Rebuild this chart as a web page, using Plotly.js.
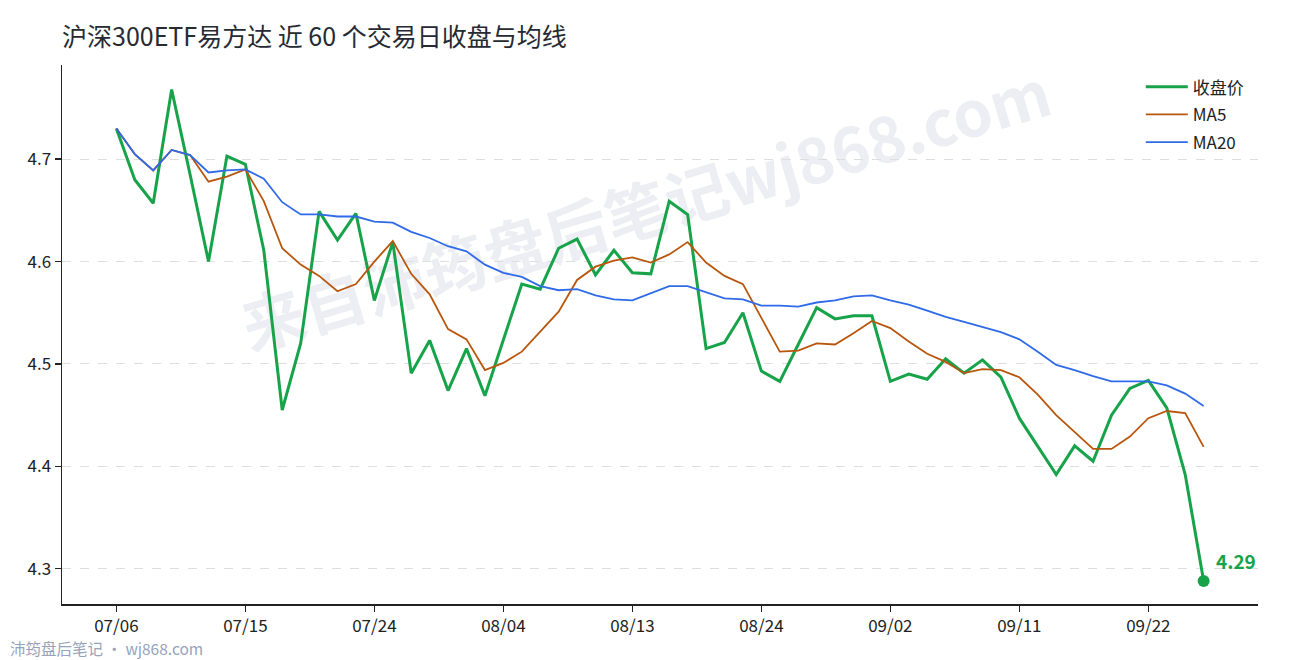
<!DOCTYPE html>
<html>
<head>
<meta charset="utf-8">
<script src="https://cdn.plot.ly/plotly-3.0.1.min.js"></script>
<style>
  html, body { margin: 0; padding: 0; background: #ffffff; }
  #wrap { position: relative; width: 1290px; height: 660px; overflow: hidden; }
  #watermark {
    position: absolute;
    left: 645px;
    top: 206px;
    transform: translate(-50%, -50%) rotate(-16.5deg);
    white-space: nowrap;
    font-family: "Noto Sans CJK SC", "Noto Sans", sans-serif;
    font-weight: 700;
    font-size: 63px;
    color: #eceef3;
    z-index: 0;
  }
  #chart { position: absolute; left: 0; top: 0; width: 1290px; height: 660px; z-index: 1; }
</style>
</head>
<body>
<div id="wrap">
  <div id="watermark">来自沛筠盘后笔记wj868.com</div>
  <div id="chart"></div>
</div>
<script>
// 近 60 个交易日
const DATES = [
  "07/06", "07/07", "07/08", "07/09", "07/10",
  "07/13", "07/14", "07/15", "07/16", "07/17",
  "07/20", "07/21", "07/22", "07/23", "07/24",
  "07/27", "07/28", "07/29", "07/30", "07/31",
  "08/03", "08/04", "08/05", "08/06", "08/07",
  "08/10", "08/11", "08/12", "08/13", "08/14",
  "08/17", "08/18", "08/19", "08/20", "08/21",
  "08/24", "08/25", "08/26", "08/27", "08/28",
  "08/31", "09/01", "09/02", "09/03", "09/04",
  "09/07", "09/08", "09/09", "09/10", "09/11",
  "09/14", "09/15", "09/16", "09/17", "09/18",
  "09/21", "09/22", "09/23", "09/24", "09/25",
];

const CLOSE = [
  4.730, 4.680, 4.657, 4.768, 4.685, 4.600, 4.703, 4.695, 4.611, 4.455,
  4.520, 4.649, 4.621, 4.647, 4.562, 4.619, 4.491, 4.523, 4.474, 4.515,
  4.469, 4.523, 4.578, 4.573, 4.613, 4.622, 4.587, 4.611, 4.589, 4.588,
  4.659, 4.646, 4.515, 4.521, 4.550, 4.493, 4.483, 4.519, 4.555, 4.544,
  4.547, 4.547, 4.483, 4.490, 4.485, 4.505, 4.491, 4.504, 4.487, 4.447,
  4.420, 4.392, 4.420, 4.405, 4.450, 4.476, 4.484, 4.457, 4.392, 4.288,
];

const MA5 = [
  4.730, 4.705, 4.689, 4.709, 4.704, 4.678, 4.683, 4.690, 4.659, 4.613,
  4.597, 4.586, 4.571, 4.578, 4.600, 4.620, 4.588, 4.568, 4.534, 4.524,
  4.494, 4.501, 4.512, 4.531, 4.551, 4.582, 4.595, 4.601, 4.604, 4.599,
  4.607, 4.619, 4.599, 4.586, 4.578, 4.545, 4.512, 4.513, 4.520, 4.519,
  4.530, 4.542, 4.535, 4.522, 4.510, 4.502, 4.491, 4.495, 4.494, 4.487,
  4.470, 4.450, 4.433, 4.417, 4.417, 4.429, 4.447, 4.454, 4.452, 4.419,
];

const MA20 = [
  4.730, 4.705, 4.689, 4.709, 4.704, 4.687, 4.689, 4.690, 4.681, 4.658,
  4.646, 4.646, 4.644, 4.644, 4.639, 4.638, 4.629, 4.623, 4.615, 4.610,
  4.597, 4.589, 4.585, 4.576, 4.572, 4.573, 4.567, 4.563, 4.562, 4.569,
  4.576, 4.576, 4.570, 4.564, 4.563, 4.557, 4.557, 4.556, 4.560, 4.562,
  4.566, 4.567, 4.562, 4.558, 4.552, 4.546, 4.541, 4.536, 4.531, 4.524,
  4.512, 4.499, 4.494, 4.488, 4.483, 4.483, 4.483, 4.479, 4.471, 4.459,
];

const TICK_STEP = 7;
const Y_TICKS = [4.3, 4.4, 4.5, 4.6, 4.7];

const GREEN = "#17a34a";
const ORANGE = "#b9560d";
const BLUE = "#2f6ae8";
const FONT = '"Noto Sans CJK SC", "Noto Sans", sans-serif';

document.addEventListener("DOMContentLoaded", renderChart);

function renderChart() {
  const tickDates = DATES.filter((_, i) => i % TICK_STEP === 0);
  const lastDate = DATES[DATES.length - 1];
  const lastClose = CLOSE[CLOSE.length - 1];

  const traces = [
    {
      type: "scatter",
      mode: "lines",
      name: "收盘价",
      legendgroup: "close",
      x: DATES,
      y: CLOSE,
      line: { color: GREEN, width: 3 },
    },
    {
      type: "scatter",
      mode: "lines",
      name: "MA5",
      legendgroup: "ma5",
      x: DATES,
      y: MA5,
      line: { color: ORANGE, width: 1.8 },
    },
    {
      type: "scatter",
      mode: "lines",
      name: "MA20",
      legendgroup: "ma20",
      x: DATES,
      y: MA20,
      line: { color: BLUE, width: 1.8 },
    },
    {
      type: "scatter",
      mode: "markers",
      x: [lastDate],
      y: [lastClose],
      marker: { color: GREEN, size: 12 },
      showlegend: false,
      hoverinfo: "skip",
    },
  ];

  const layout = {
    width: 1290,
    height: 660,
    margin: { t: 65, r: 32, b: 56, l: 62 },
    paper_bgcolor: "rgba(0,0,0,0)",
    plot_bgcolor: "rgba(0,0,0,0)",
    font: { family: FONT, size: 16, color: "#222222" },
    title: {
      text: "沪深300ETF易方达 近 60 个交易日收盘与均线",
      font: { family: FONT, size: 25, color: "#262a33" },
      x: 0,
      xref: "paper",
      xanchor: "left",
      y: 1 - 37 / 660,
      yref: "container",
      yanchor: "middle",
    },
    xaxis: {
      type: "category",
      range: [-2.95, DATES.length - 1 + 2.95],
      tickvals: tickDates,
      ticktext: tickDates,
      showline: true,
      linecolor: "#222222",
      linewidth: 1.5,
      ticks: "outside",
      ticklen: 6,
      tickwidth: 1.5,
      tickcolor: "#222222",
      showgrid: false,
      zeroline: false,
      tickfont: { size: 17, color: "#222222" },
    },
    yaxis: {
      range: [4.2655, 4.792],
      tickvals: Y_TICKS,
      tickformat: ".1f",
      showline: true,
      linecolor: "#222222",
      linewidth: 1.5,
      ticks: "outside",
      ticklen: 6,
      tickwidth: 1.5,
      tickcolor: "#222222",
      showgrid: true,
      gridcolor: "#dedede",
      gridwidth: 1,
      griddash: "dash",
      zeroline: false,
      tickfont: { size: 17, color: "#222222" },
    },
    legend: {
      x: 0.902,
      xanchor: "left",
      y: 0.992,
      yanchor: "top",
      bgcolor: "rgba(0,0,0,0)",
      itemwidth: 42,
      font: { family: FONT, size: 17, color: "#222222" },
      tracegroupgap: 2.5,
    },
    annotations: [
      {
        x: lastDate,
        y: lastClose,
        text: "<b>" + lastClose.toFixed(2) + "</b>",
        showarrow: false,
        xanchor: "left",
        yanchor: "middle",
        xshift: 10,
        yshift: 20,
        font: { family: FONT, size: 19, color: GREEN },
      },
      {
        xref: "paper",
        yref: "paper",
        x: -54 / 1196,
        y: -44 / 539,
        xanchor: "left",
        yanchor: "middle",
        text: "沛筠盘后笔记 · wj868.com",
        showarrow: false,
        font: { family: FONT, size: 15.5, color: "#97a3ba" },
      },
    ],
    showlegend: true,
    hovermode: false,
  };

  Plotly.newPlot("chart", traces, layout, { displayModeBar: false, staticPlot: true });
}
</script>
</body>
</html>
